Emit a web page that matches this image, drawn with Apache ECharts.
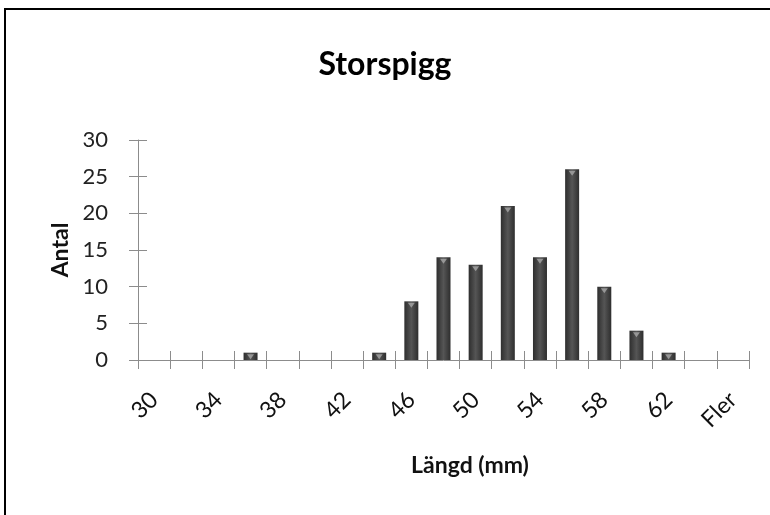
<!DOCTYPE html>
<html>
<head>
<meta charset="utf-8">
<script src="https://cdn.jsdelivr.net/npm/echarts@6/dist/echarts.min.js"></script>
<style>
  html, body { margin: 0; padding: 0; background: #fff; }
  #frame { position: absolute; left: 4px; top: 8px; width: 800px; height: 600px;
           border-left: 2px solid #000; border-top: 2px solid #000; }
  #chart { position: absolute; left: 0; top: 0; width: 770px; height: 515px; }
</style>
</head>
<body>
<div id="frame"></div>
<div id="chart"></div>
<script>
// längdklasser (mm), sista klassen "Fler"
var categories = ['30', '32', '34', '36', '38', '40', '42', '44', '46', '48',
                  '50', '52', '54', '56', '58', '60', '62', '64', 'Fler'];
var antal = [0, 0, 0, 1, 0, 0, 0, 1, 8, 14, 13, 21, 14, 26, 10, 4, 1, 0, 0];
var yTicks = [0, 5, 10, 15, 20, 25, 30];

var font = 'Lato, "Open Sans", sans-serif';
var axisGray = '#8c8c8c';

// tomma klasser ritas inte
var barData = antal.map(function (v) { return v > 0 ? v : '-'; });

var myChart = echarts.init(document.getElementById('chart'));
myChart.setOption({
  animation: false,
  title: {
    text: 'Storspigg',
    left: 'center',
    top: 44,
    textStyle: { fontFamily: font, fontSize: 32, fontWeight: 'bold', color: '#000' }
  },
  grid: { left: 138, top: 140, right: 21, bottom: 155 },
  // x-axelns titel ligger lite till höger om axelns mitt
  graphic: [{
    type: 'text',
    x: 470,
    y: 466,
    style: {
      text: 'Längd (mm)',
      align: 'center',
      verticalAlign: 'middle',
      fontFamily: font, fontSize: 23, fontWeight: 'bold', fill: '#111'
    }
  }],
  xAxis: [
    {
      type: 'category',
      data: categories,
      axisLine: { lineStyle: { color: axisGray, width: 1 } },
      axisTick: { show: true, interval: 0, length: 9, lineStyle: { color: axisGray } },
      axisLabel: {
        interval: 1, //varannan etikett
        rotate: 45,
        margin: 36,
        fontFamily: font, fontSize: 23, color: '#111'
      }
    },
    {
      type: 'category',
      data: categories,
      position: 'bottom',
      axisLine: { show: false },
      axisTick: { show: true, interval: 0, inside: true, length: 9, lineStyle: { color: axisGray } },
      axisLabel: { show: false }
    }
  ],
  yAxis: [
    {
      type: 'value',
      min: yTicks[0],
      max: yTicks[yTicks.length - 1],
      interval: 5,
      name: 'Antal',
      nameLocation: 'middle',
      nameGap: 57,
      nameRotate: 90,
      nameTextStyle: { fontFamily: font, fontSize: 23, fontWeight: 'bold', color: '#111' },
      axisLine: { show: true, lineStyle: { color: axisGray } },
      axisTick: { show: true, length: 9, lineStyle: { color: axisGray } },
      axisLabel: { margin: 30, fontFamily: font, fontSize: 22, color: '#222' },
      splitLine: { show: false }
    },
    {
      type: 'value',
      position: 'left',
      min: yTicks[0],
      max: yTicks[yTicks.length - 1],
      interval: 5,
      axisLine: { show: false },
      axisTick: { show: true, inside: true, length: 9, lineStyle: { color: axisGray } },
      axisLabel: { show: false },
      splitLine: { show: false }
    }
  ],
  series: [
    {
      name: 'Antal',
      type: 'bar',
      data: barData,
      barWidth: 14,
      itemStyle: {
        color: new echarts.graphic.LinearGradient(0, 0, 1, 0, [
          { offset: 0, color: '#2e2e2e' },
          { offset: 0.5, color: '#555555' },
          { offset: 1, color: '#2e2e2e' }
        ])
      },
      z: 2
    },
    {
      // små trianglar i stapeltoppen
      type: 'scatter',
      data: barData,
      symbol: 'triangle',
      symbolRotate: 180,
      symbolSize: [7, 5],
      symbolOffset: [0, 4],
      itemStyle: { color: '#a8a8a8' },
      silent: true,
      z: 3
    }
  ]
});
</script>
</body>
</html>
